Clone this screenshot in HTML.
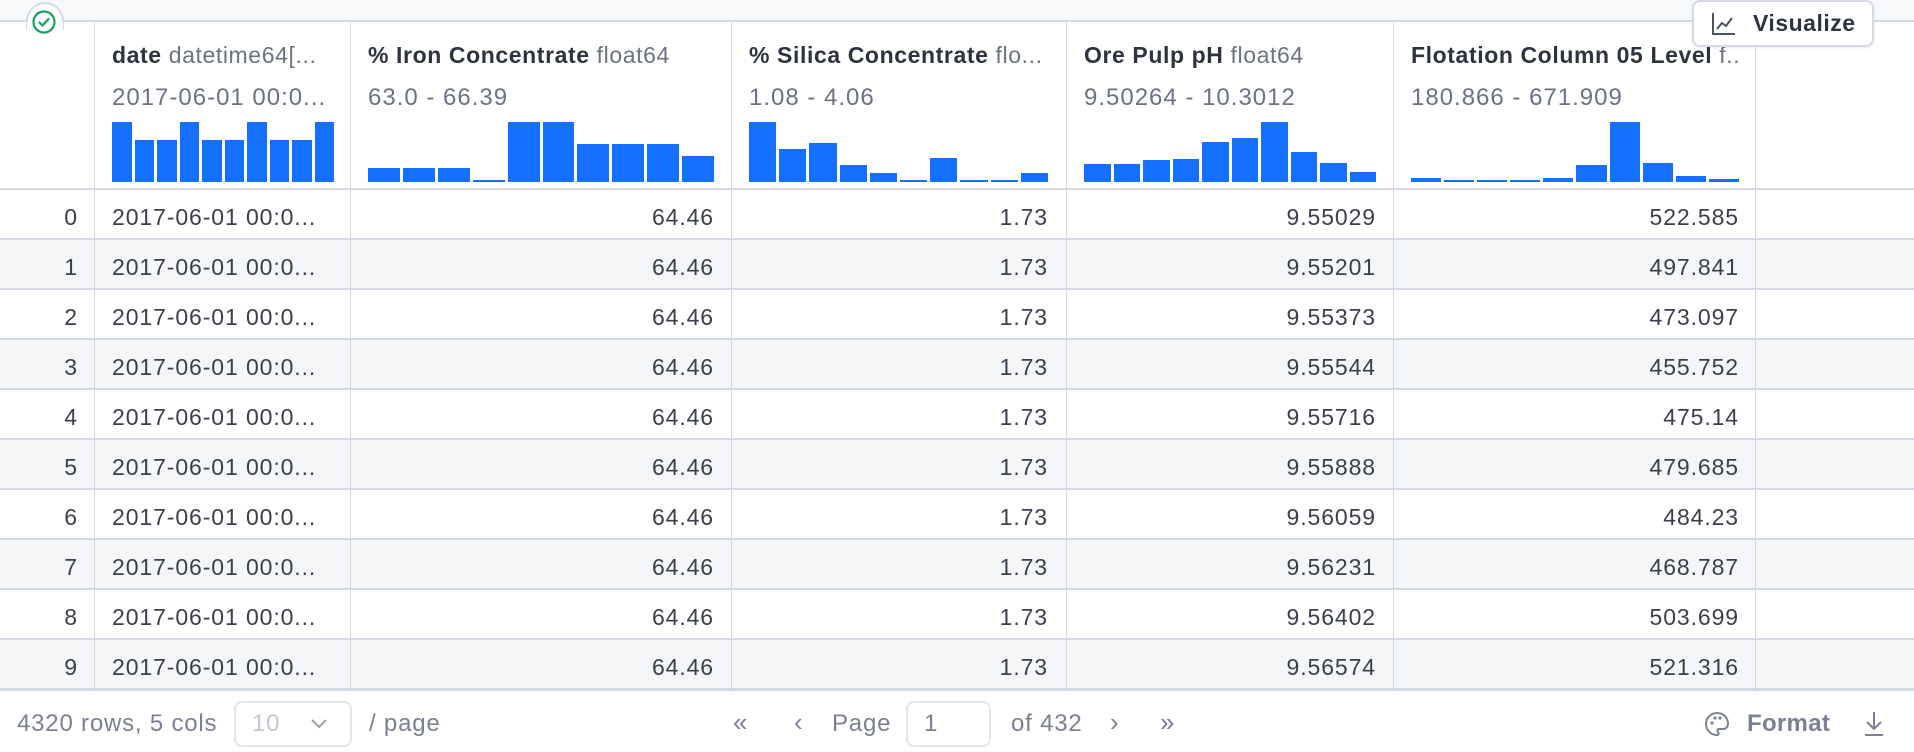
<!DOCTYPE html>
<html><head><meta charset="utf-8"><style>
*{box-sizing:border-box;margin:0;padding:0}
body{width:1914px;height:752px;background:#fff;font-family:"Liberation Sans",sans-serif;position:relative;overflow:hidden;color:#3a3f4b}
.topbar{position:absolute;left:0;top:0;width:1914px;height:22px;background:#f7f8fa;border-bottom:2px solid #d3dae4}
.a{position:absolute}
.vl{position:absolute;top:22px;height:670px;width:1px;background:#d3dae4}
.row{position:absolute;left:0;width:1914px;height:50px;border-bottom:2px solid #d3dae4}
.row.odd{background:#f5f6f8}
.c{position:absolute;top:0;height:48px;line-height:54px;font-size:23px;color:#3a3f4b;white-space:nowrap;letter-spacing:0.9px}
.r{text-align:right}
.h1{position:absolute;top:42px;font-size:23px;font-weight:bold;color:#2d3340;white-space:nowrap;overflow:hidden;letter-spacing:0.6px}
.h1 span{font-weight:normal;color:#6b7280}
.h2{position:absolute;top:84px;font-size:24px;color:#6b7280;white-space:nowrap;letter-spacing:1px}
.hist{position:absolute;top:122px;height:60px;display:flex;align-items:flex-end;gap:3px}
.hist div{flex:1;background:#1570ff}
.ft{position:absolute;top:710px;font-size:24px;color:#7b8190;white-space:nowrap;letter-spacing:0.8px}
</style></head><body>
<div class="topbar"></div>
<div class="a" style="left:26px;top:2px;width:38px;height:28px;background:#fff;border:2px solid #d3dae4;border-bottom:none;border-radius:19px 19px 0 0"></div>
<div class="a" style="left:27px;top:22px;width:36px;height:8px;background:#fff"></div>
<svg class="a" style="left:31px;top:9px" width="26" height="26" viewBox="0 0 26 26"><circle cx="13" cy="13" r="10.5" fill="none" stroke="#16a05a" stroke-width="2.2"/><path d="M8.5 13.5l3 3 6-6.5" fill="none" stroke="#16a05a" stroke-width="2.2" stroke-linecap="round" stroke-linejoin="round"/></svg>
<div class="a" style="left:0;top:24px;width:1914px;height:166px;border-bottom:2px solid #d3dae4"></div>

<div class="vl" style="left:94px"></div><div class="vl" style="left:350px"></div><div class="vl" style="left:731px"></div><div class="vl" style="left:1066px"></div><div class="vl" style="left:1393px"></div><div class="vl" style="left:1755px"></div>

<div class="h1" style="left:112px;width:226px">date <span>datetime64[...</span></div>
<div class="h2" style="left:112px">2017-06-01 00:0...</div>
<div class="hist" style="left:112px;width:222px"><div style="height:100%"></div><div style="height:70%"></div><div style="height:70%"></div><div style="height:100%"></div><div style="height:70%"></div><div style="height:70%"></div><div style="height:100%"></div><div style="height:70%"></div><div style="height:70%"></div><div style="height:100%"></div></div>

<div class="h1" style="left:368px;width:350px">% Iron Concentrate <span>float64</span></div>
<div class="h2" style="left:368px">63.0 - 66.39</div>
<div class="hist" style="left:368px;width:346px"><div style="height:23%"></div><div style="height:23%"></div><div style="height:23%"></div><div style="height:3%"></div><div style="height:100%"></div><div style="height:100%"></div><div style="height:64%"></div><div style="height:64%"></div><div style="height:64%"></div><div style="height:44%"></div></div>

<div class="h1" style="left:749px;width:300px">% Silica Concentrate <span>flo...</span></div>
<div class="h2" style="left:749px">1.08 - 4.06</div>
<div class="hist" style="left:749px;width:299px"><div style="height:100%"></div><div style="height:55%"></div><div style="height:65%"></div><div style="height:28%"></div><div style="height:15%"></div><div style="height:3%"></div><div style="height:40%"></div><div style="height:3%"></div><div style="height:3%"></div><div style="height:15%"></div></div>

<div class="h1" style="left:1084px;width:300px">Ore Pulp pH <span>float64</span></div>
<div class="h2" style="left:1084px">9.50264 - 10.3012</div>
<div class="hist" style="left:1084px;width:292px"><div style="height:30%"></div><div style="height:30%"></div><div style="height:36%"></div><div style="height:38%"></div><div style="height:67%"></div><div style="height:74%"></div><div style="height:100%"></div><div style="height:50%"></div><div style="height:31%"></div><div style="height:17%"></div></div>

<div class="h1" style="left:1411px;width:328px">Flotation Column 05 Level <span>f..</span></div>
<div class="h2" style="left:1411px">180.866 - 671.909</div>
<div class="hist" style="left:1411px;width:328px"><div style="height:6%"></div><div style="height:4%"></div><div style="height:3%"></div><div style="height:4%"></div><div style="height:6%"></div><div style="height:28%"></div><div style="height:100%"></div><div style="height:32%"></div><div style="height:10%"></div><div style="height:5%"></div></div>

<div class="a" style="left:1692px;top:0;width:182px;height:47px;background:#fff;border:2px solid #d3dae4;border-radius:8px;box-shadow:0 1px 3px rgba(0,0,0,.08)"></div>
<svg class="a" style="left:1711px;top:11px" width="26" height="26" viewBox="0 0 26 26"><path d="M2 2v21h22" fill="none" stroke="#4b5262" stroke-width="2"/><path d="M6 18l5-6 4 3 6-8" fill="none" stroke="#4b5262" stroke-width="2"/></svg>
<div class="a" style="left:1753px;top:10px;font-size:23px;font-weight:bold;color:#2d3340;letter-spacing:0.5px">Visualize</div>

<div class="row" style="top:190px"><div class="c r" style="left:0;width:78px">0</div><div class="c" style="left:112px">2017-06-01 00:0...</div><div class="c r" style="left:350px;width:364px">64.46</div><div class="c r" style="left:731px;width:317px">1.73</div><div class="c r" style="left:1066px;width:310px">9.55029</div><div class="c r" style="left:1393px;width:346px">522.585</div></div>
<div class="row odd" style="top:240px"><div class="c r" style="left:0;width:78px">1</div><div class="c" style="left:112px">2017-06-01 00:0...</div><div class="c r" style="left:350px;width:364px">64.46</div><div class="c r" style="left:731px;width:317px">1.73</div><div class="c r" style="left:1066px;width:310px">9.55201</div><div class="c r" style="left:1393px;width:346px">497.841</div></div>
<div class="row" style="top:290px"><div class="c r" style="left:0;width:78px">2</div><div class="c" style="left:112px">2017-06-01 00:0...</div><div class="c r" style="left:350px;width:364px">64.46</div><div class="c r" style="left:731px;width:317px">1.73</div><div class="c r" style="left:1066px;width:310px">9.55373</div><div class="c r" style="left:1393px;width:346px">473.097</div></div>
<div class="row odd" style="top:340px"><div class="c r" style="left:0;width:78px">3</div><div class="c" style="left:112px">2017-06-01 00:0...</div><div class="c r" style="left:350px;width:364px">64.46</div><div class="c r" style="left:731px;width:317px">1.73</div><div class="c r" style="left:1066px;width:310px">9.55544</div><div class="c r" style="left:1393px;width:346px">455.752</div></div>
<div class="row" style="top:390px"><div class="c r" style="left:0;width:78px">4</div><div class="c" style="left:112px">2017-06-01 00:0...</div><div class="c r" style="left:350px;width:364px">64.46</div><div class="c r" style="left:731px;width:317px">1.73</div><div class="c r" style="left:1066px;width:310px">9.55716</div><div class="c r" style="left:1393px;width:346px">475.14</div></div>
<div class="row odd" style="top:440px"><div class="c r" style="left:0;width:78px">5</div><div class="c" style="left:112px">2017-06-01 00:0...</div><div class="c r" style="left:350px;width:364px">64.46</div><div class="c r" style="left:731px;width:317px">1.73</div><div class="c r" style="left:1066px;width:310px">9.55888</div><div class="c r" style="left:1393px;width:346px">479.685</div></div>
<div class="row" style="top:490px"><div class="c r" style="left:0;width:78px">6</div><div class="c" style="left:112px">2017-06-01 00:0...</div><div class="c r" style="left:350px;width:364px">64.46</div><div class="c r" style="left:731px;width:317px">1.73</div><div class="c r" style="left:1066px;width:310px">9.56059</div><div class="c r" style="left:1393px;width:346px">484.23</div></div>
<div class="row odd" style="top:540px"><div class="c r" style="left:0;width:78px">7</div><div class="c" style="left:112px">2017-06-01 00:0...</div><div class="c r" style="left:350px;width:364px">64.46</div><div class="c r" style="left:731px;width:317px">1.73</div><div class="c r" style="left:1066px;width:310px">9.56231</div><div class="c r" style="left:1393px;width:346px">468.787</div></div>
<div class="row" style="top:590px"><div class="c r" style="left:0;width:78px">8</div><div class="c" style="left:112px">2017-06-01 00:0...</div><div class="c r" style="left:350px;width:364px">64.46</div><div class="c r" style="left:731px;width:317px">1.73</div><div class="c r" style="left:1066px;width:310px">9.56402</div><div class="c r" style="left:1393px;width:346px">503.699</div></div>
<div class="row odd" style="top:640px;border-bottom:3px solid #d3dae4;height:51px"><div class="c r" style="left:0;width:78px">9</div><div class="c" style="left:112px">2017-06-01 00:0...</div><div class="c r" style="left:350px;width:364px">64.46</div><div class="c r" style="left:731px;width:317px">1.73</div><div class="c r" style="left:1066px;width:310px">9.56574</div><div class="c r" style="left:1393px;width:346px">521.316</div></div>
<div class="vl" style="left:94px;top:190px;height:501px"></div><div class="vl" style="left:350px;top:190px;height:501px"></div><div class="vl" style="left:731px;top:190px;height:501px"></div><div class="vl" style="left:1066px;top:190px;height:501px"></div><div class="vl" style="left:1393px;top:190px;height:501px"></div><div class="vl" style="left:1755px;top:190px;height:501px"></div>

<div class="ft" style="left:17px">4320 rows, 5 cols</div>
<div class="a" style="left:234px;top:701px;width:118px;height:46px;border:2px solid #e2e6ec;border-radius:8px"></div>
<div class="ft" style="left:252px;color:#c3c8d0">10</div>
<svg class="a" style="left:310px;top:717px" width="18" height="14"><path d="M2 3l7 7 7-7" fill="none" stroke="#9aa1ad" stroke-width="2"/></svg>
<div class="ft" style="left:369px">/ page</div>
<div class="ft" style="left:733px;font-size:26px;top:707px">«</div>
<div class="ft" style="left:794px;font-size:26px;top:707px">‹</div>
<div class="ft" style="left:832px">Page</div>
<div class="a" style="left:906px;top:701px;width:85px;height:46px;border:2px solid #e2e6ec;border-radius:8px"></div>
<div class="ft" style="left:924px">1</div>
<div class="ft" style="left:1011px">of 432</div>
<div class="ft" style="left:1110px;font-size:26px;top:707px">›</div>
<div class="ft" style="left:1160px;font-size:26px;top:707px">»</div>
<svg class="a" style="left:1704px;top:711px" width="26" height="26" viewBox="0 0 26 26"><path d="M13 2a11 11 0 1 0 0 22c2 0 2-2 1-3s-1-3 1-3h4a5 5 0 0 0 5-5C24 6 19 2 13 2z" fill="none" stroke="#7b8190" stroke-width="2"/><circle cx="8" cy="12" r="1.6" fill="#7b8190"/><circle cx="11" cy="7" r="1.6" fill="#7b8190"/><circle cx="16" cy="7" r="1.6" fill="#7b8190"/></svg>
<div class="ft" style="left:1747px;font-weight:bold;letter-spacing:0.3px">Format</div>
<svg class="a" style="left:1862px;top:710px" width="24" height="28" viewBox="0 0 24 28"><path d="M12 2v17M5 12l7 7 7-7M3 25h18" fill="none" stroke="#7b8190" stroke-width="2"/></svg>
</body></html>
